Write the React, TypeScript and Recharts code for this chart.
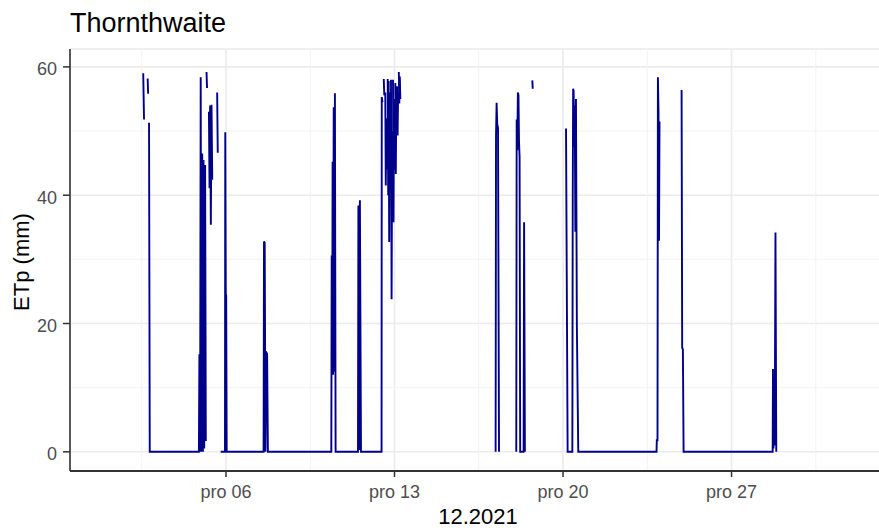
import React from 'react';
import { LineChart, Line, XAxis, YAxis, CartesianGrid, ReferenceLine } from 'recharts';

type Pt = [number, number | null];

// hours since 1.12.2021 00:00, ETp (mm); null = missing value (gap)
const ep1: Pt[] = [[37.5, 59.0], [38.3, 51.8], [39.0, null], [41.9, 58.2], [42.4, 55.8], [42.9, null], [43.3, 51.3], [44.0, 0], [93.0, 0]];
const ep2: Pt[] = [[93.5, 15.2], [94.2, 0], [94.8, 58.4], [95.5, 0], [96.3, 46.5], [97.0, 0], [97.6, 45.5], [98.3, 0.5], [99.2, 44.7], [99.9, 1.7], [100.3, null],
  [100.6, 59.2], [101.1, 56.7], [101.5, null], [103.0, 53.0], [103.6, 41.1], [104.2, 54.0], [104.9, 35.4], [105.6, 54.1], [106.3, 42.4], [106.8, null],
  [111.2, 56.0], [111.8, 46.6], [112.3, null], [114.7, 0], [119.0, 0], [119.3, 49.8], [119.8, 24.6], [120.2, 24.4], [120.7, 0], [157.5, 0]];
const ep3: Pt[] = [[157.9, 32.8], [158.6, 32.6], [159.4, 0], [160.2, 15.5], [161.0, 15.3], [161.8, 0], [225.0, 0]];
const ep4: Pt[] = [[225.4, 30.6], [225.9, 12.1], [226.3, 45.2], [226.8, 12.0], [227.4, 53.7], [228.0, 12.5], [228.6, 55.9], [229.3, 0], [251.6, 0]];
const ep5: Pt[] = [[252.0, 38.4], [252.8, 0.3], [253.5, 39.2], [254.6, 0], [275.1, 0]];
const ep6: Pt[] = [[275.3, 55.3], [276.0, 54.5], [276.4, null], [277.3, 58.1], [277.8, 55.6], [278.2, null],
  [278.8, 56.0], [279.3, 41.5], [279.9, 52.0], [280.4, 44.0], [280.8, null], [281.2, 58.1], [281.7, 40.0], [282.2, 57.8], [282.7, 32.7],
  [283.2, 56.0], [283.7, 45.0], [284.1, null], [284.5, 58.0], [285.1, 23.8], [285.7, 50.0], [286.1, null], [286.5, 58.0], [287.0, 35.8],
  [287.5, 55.0], [288.0, 44.0], [288.4, null], [288.8, 57.5], [289.3, 43.3], [289.8, 55.0], [290.2, null], [290.6, 57.0], [291.1, 49.3],
  [291.6, 56.0], [292.0, null], [292.3, 59.2], [292.8, 54.3], [293.3, 58.5], [293.8, 55.0], [294.2, null]];
const ep7: Pt[] = [[388.8, 0], [389.2, 49.1], [389.8, 54.4], [390.4, 51.1], [391.2, 50.5], [392.2, 0], [392.6, null]];
const ep8: Pt[] = [[409.4, 0], [409.8, 51.8], [410.4, 47.0], [411.0, 56.0], [411.6, 55.6], [412.1, 48.5], [412.7, 46.0], [413.3, 0], [416.7, 0], [417.2, 35.8], [418.0, 0], [418.4, null]];
const ep9: Pt[] = [[425.4, 57.9], [425.8, 56.6], [426.2, null]];
const ep10: Pt[] = [[459.0, 50.4], [459.7, 28.0], [460.6, 0], [465.3, 0], [465.7, 40.2], [466.1, 56.6], [466.6, 56.2], [467.1, 47.5], [467.7, 54.0],
  [468.3, 34.3], [468.9, 55.0], [469.8, 19.7], [471.2, 0], [549.2, 0]];
const ep11: Pt[] = [[549.5, 1.8], [550.2, 1.8], [550.6, 58.4], [551.2, 53.0], [551.7, 32.9], [552.2, 51.5], [552.5, null]];
const ep12: Pt[] = [[574.2, 56.4], [574.8, 16.2], [575.5, 16.0], [576.2, 0], [665.0, 0]];
const ep13: Pt[] = [[665.3, 12.9], [665.8, 0.5], [666.3, 7.7], [666.8, 1.0], [667.2, 7.7], [667.8, 34.2], [668.6, 0], [669.0, null]];

const episodes = [ep1, ep2, ep3, ep4, ep5, ep6, ep7, ep8, ep9, ep10, ep11, ep12, ep13];

const xTickHours = [120, 288, 456, 624];
const xTickLabels = ['pro 06', 'pro 13', 'pro 20', 'pro 27'];
const xMinorHours = [36, 204, 372, 540, 708];
const yTicks = [0, 20, 40, 60];
const yMinor = [10, 30, 50];
const xDomain: [number, number] = [-35.5, 773];
const yDomain: [number, number] = [-2.99, 62.79];

const data = episodes.flat().map(([h, v]) => ({ h, v }));

const FONT = '"Liberation Sans", Arial, sans-serif';

const XTick = (props: any) => {
  const { x, y, payload } = props;
  const i = xTickHours.indexOf(payload.value);
  return (
    <text x={x} y={y + 19} textAnchor="middle" fontSize={18} fill="#4d4d4d" fontFamily={FONT}>
      {i >= 0 ? xTickLabels[i] : ''}
    </text>
  );
};

const YTick = (props: any) => {
  const { x, y, payload } = props;
  return (
    <text x={x - 4} y={y + 8.5} textAnchor="end" fontSize={18} fill="#4d4d4d" fontFamily={FONT}>
      {payload.value}
    </text>
  );
};

export default function App() {
  return (
    <div style={{ position: 'absolute', left: 0, top: 0, width: 879, height: 530, overflow: 'hidden', background: '#fff' }}>
      <LineChart width={881} height={530} data={data} margin={{ top: 49, right: 0, bottom: 0, left: 0 }}>
        <CartesianGrid stroke="#ebebeb" strokeWidth={1.6} />
        {yMinor.map((v) => (
          <ReferenceLine key={'ym' + v} y={v} stroke="#f2f2f2" strokeWidth={1} />
        ))}
        {xMinorHours.map((v) => (
          <ReferenceLine key={'xm' + v} x={v} stroke="#f2f2f2" strokeWidth={1} />
        ))}
        <XAxis
          type="number"
          dataKey="h"
          domain={xDomain}
          allowDataOverflow
          ticks={xTickHours}
          height={59}
          axisLine={{ stroke: '#333333', strokeWidth: 2 }}
          tickLine={{ stroke: '#333333', strokeWidth: 1.5 }}
          tickSize={6}
          tick={<XTick />}
          interval={0}
        />
        <XAxis
          xAxisId="top"
          orientation="top"
          type="number"
          dataKey="h"
          domain={xDomain}
          allowDataOverflow
          height={0}
          tick={false}
          tickLine={false}
          axisLine={{ stroke: '#555555', strokeWidth: 1.3 }}
        />
        <YAxis
          type="number"
          domain={yDomain}
          allowDataOverflow
          ticks={yTicks}
          width={70}
          axisLine={{ stroke: '#333333', strokeWidth: 1.6 }}
          tickLine={{ stroke: '#333333', strokeWidth: 1.5 }}
          tickSize={7}
          tick={<YTick />}
          interval={0}
        />
        <Line
          type="linear"
          dataKey="v"
          stroke="#00008B"
          strokeWidth={1.9}
          dot={false}
          activeDot={false}
          connectNulls={false}
          isAnimationActive={false}
        />
      </LineChart>
      <svg width={879} height={530} style={{ position: 'absolute', left: 0, top: 0, pointerEvents: 'none' }}>
        <text x={70} y={32} fontSize={27} fill="#000" fontFamily={FONT}>Thornthwaite</text>
        <text x={478} y={524} fontSize={22} fill="#000" textAnchor="middle" fontFamily={FONT}>12.2021</text>
        <text x={0} y={0} fontSize={22} fill="#000" textAnchor="middle" fontFamily={FONT} transform="translate(28.5,262) rotate(-90)">ETp (mm)</text>
      </svg>
    </div>
  );
}
